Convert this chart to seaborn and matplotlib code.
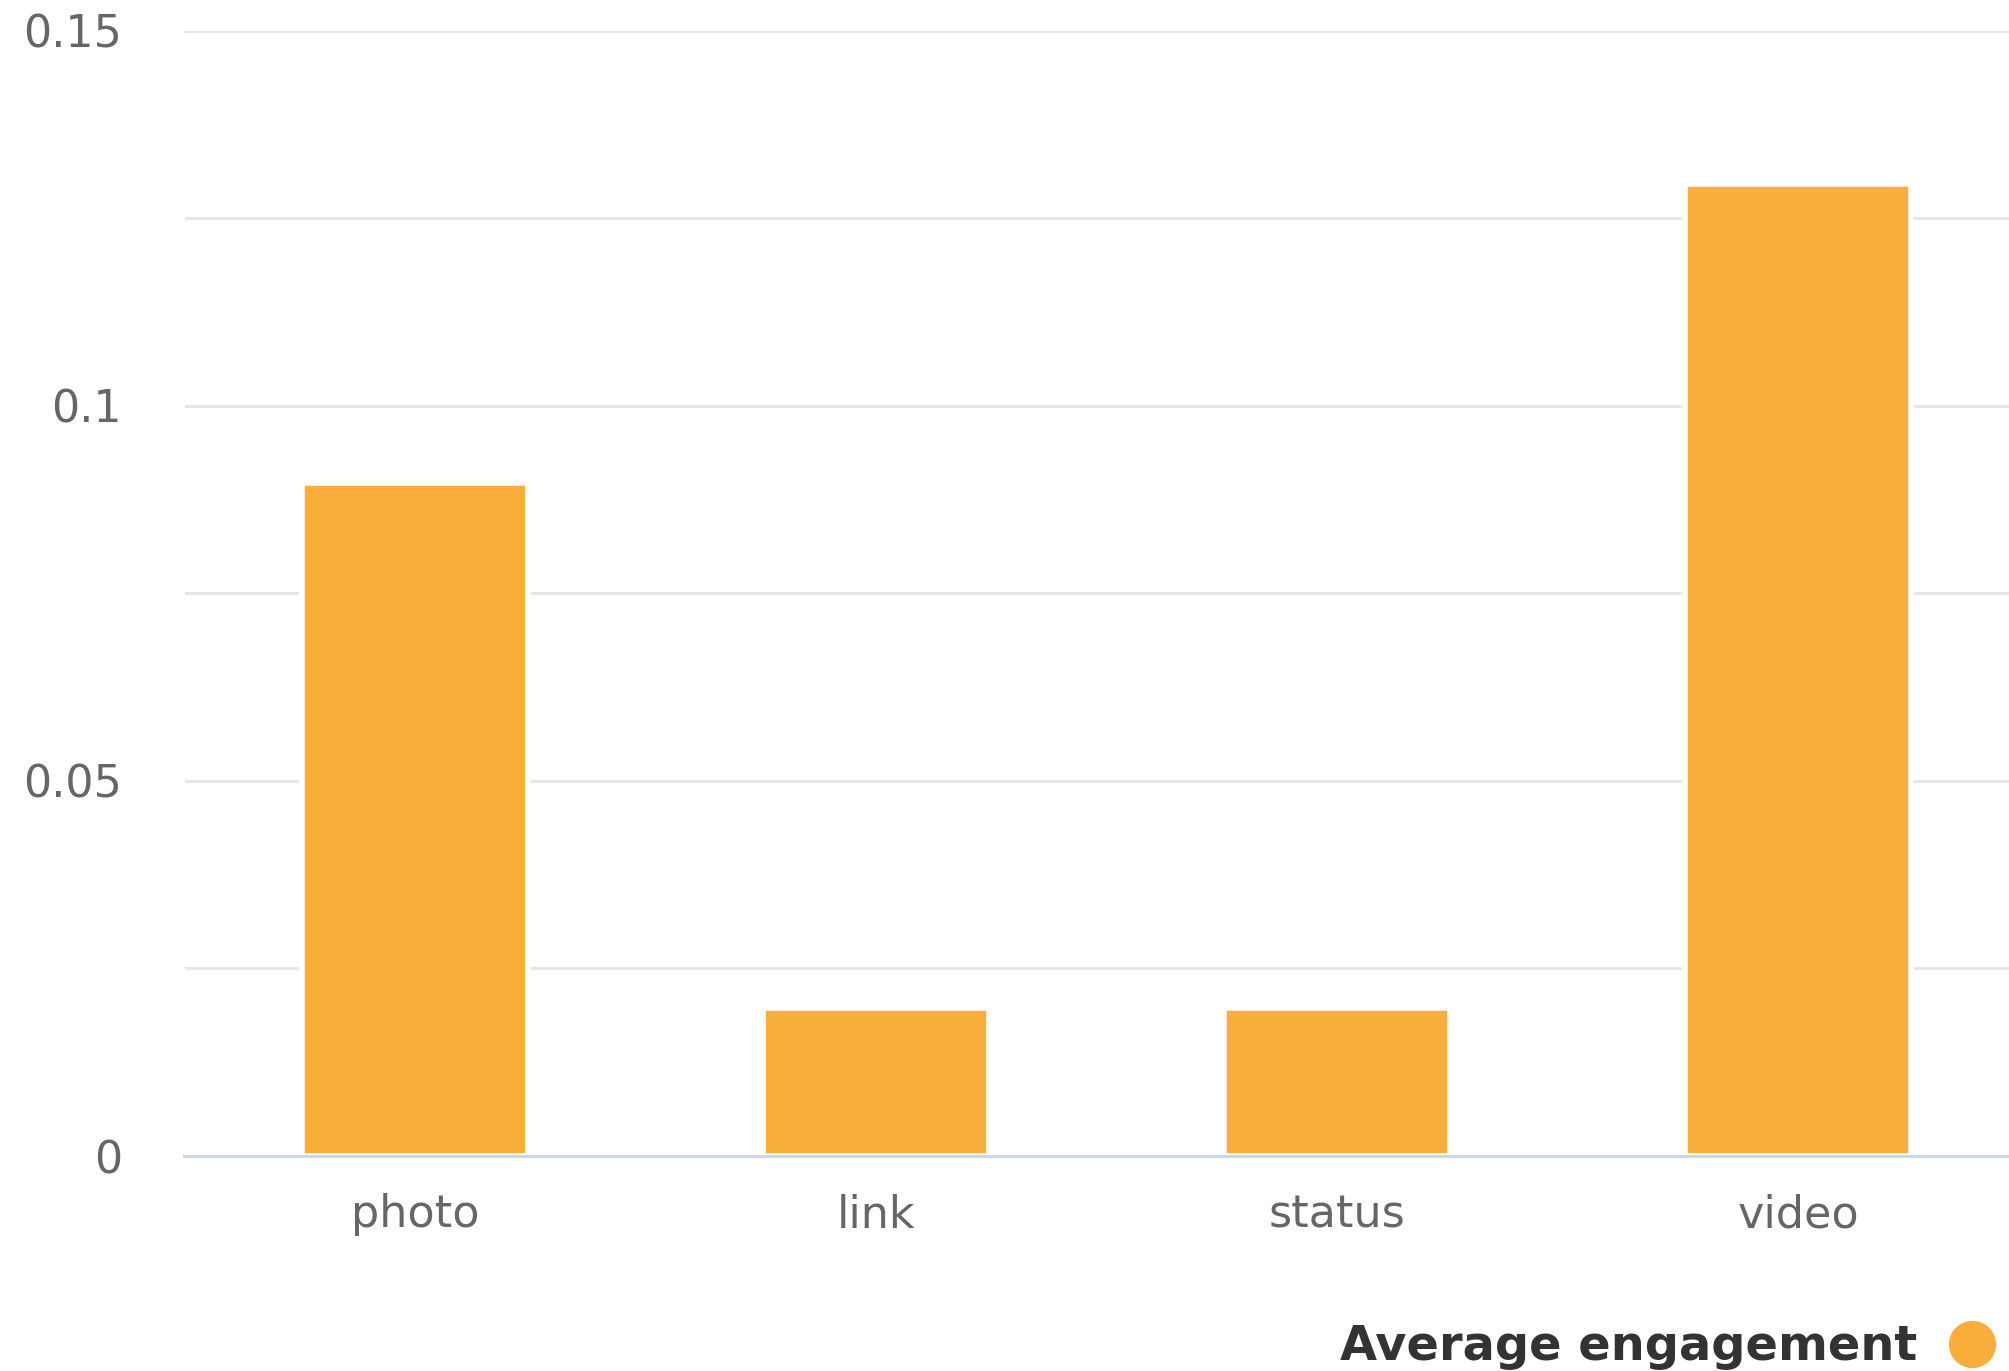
import matplotlib
matplotlib.use("Agg")
import matplotlib.pyplot as plt
from matplotlib.lines import Line2D
import seaborn as sns
import pandas as pd

categories = ["photo", "link", "status", "video"]
avg_engagement = [0.0897, 0.0197, 0.0197, 0.1296]
series_name = "Average engagement"
y_ticks = [0, 0.025, 0.05, 0.075, 0.1, 0.125, 0.15]
y_tick_labels = ["0", "", "0.05", "", "0.1", "", "0.15"]

BAR = "#F9AD3B"

sns.set_theme(style="white")
plt.rcParams["font.family"] = ["DejaVu Sans"]

df = pd.DataFrame({"category": categories, "value": avg_engagement})

W, H = 2009, 1371
fig = plt.figure(figsize=(W / 100, H / 100), dpi=100)
fig.patch.set_facecolor("white")
ax = fig.add_axes([184.5 / W, 1 - 1156 / H, (2028.5 - 184.5) / W, (1156 - 30.7) / H])
ax.set_facecolor("white")

sns.barplot(data=df, x="category", y="value", color=BAR, saturation=1,
            width=0.49, edgecolor="white", linewidth=4.0, ax=ax, zorder=3)

ax.set_xlim(-0.5, len(categories) - 0.5)
ax.set_ylim(0, 0.15)
ax.set_yticks(y_ticks)
ax.set_yticklabels(y_tick_labels)
ax.yaxis.grid(True, color="#e6e6e6", linewidth=2.2, zorder=0)
ax.set_axisbelow(True)
ax.xaxis.grid(False)
for s in ["top", "right", "left"]:
    ax.spines[s].set_visible(False)
ax.spines["bottom"].set_color("#ccd6eb")
ax.spines["bottom"].set_linewidth(2.2)
ax.spines["bottom"].set_zorder(4)
ax.tick_params(axis="both", length=0, labelsize=32, labelcolor="#666666")
ax.tick_params(axis="y", pad=45)
ax.tick_params(axis="x", pad=27)
ax.set_xlabel("")
ax.set_ylabel("")

handle = Line2D([], [], marker="o", linestyle="", color=BAR, markersize=33)
leg = fig.legend(handles=[handle], labels=[series_name], loc="center right",
                 bbox_to_anchor=(1996 / W, 1 - 1347 / H), markerfirst=False,
                 frameon=False, borderpad=0, borderaxespad=0, handlelength=1.0,
                 handletextpad=0.65, prop={"size": 34.5, "weight": "bold"})
for t in leg.get_texts():
    t.set_color("#333333")

fig.savefig("out.png", dpi=100, facecolor="white")
